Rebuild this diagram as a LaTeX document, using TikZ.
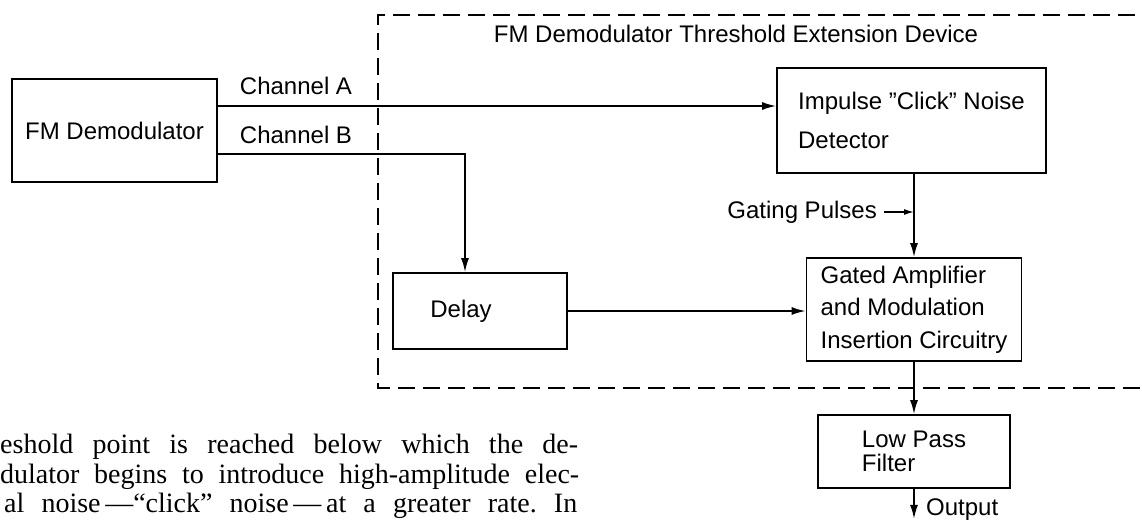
\documentclass[tikz,border=0pt]{standalone}
\usepackage{fontspec}
\setmainfont{Liberation Sans}
\newfontfamily\bodyserif[Ligatures=TeX]{Liberation Serif}
\usetikzlibrary{arrows.meta, positioning, calc}

\begin{document}
\begin{tikzpicture}[
  x=1pt, y=1pt,
  blockbox/.style={draw, line width=1.7pt, inner sep=0pt, align=left},
  sig/.style={-{Latex[length=14pt, width=8pt]}, line width=1.7pt},
  lbl/.style={font=\fontsize{24}{27}\selectfont, inner sep=0pt},
  bodyline/.style={anchor=base west, inner sep=0pt, font=\bodyserif\fontsize{28}{30}\selectfont}
]
  \useasboundingbox (0,0) rectangle (1142,-528);

  % dashed enclosure of the extension device
  \draw[line width=1.7pt, dash pattern=on 17pt off 8pt] (1160,-15) -- (378,-15) -- (378,-388) -- (1160,-388);
  \node[lbl] (title) at (736,-34) {FM Demodulator Threshold Extension Device};

  \node[blockbox, minimum width=205pt, minimum height=103pt, font=\fontsize{24}{27}\selectfont] (demod) at (114.5,-130.5) {FM Demodulator};
  \node[blockbox, minimum width=269pt, minimum height=105pt, font=\fontsize{24}{39}\selectfont] (impulse) at (911.5,-120.5) {Impulse ''Click'' Noise\\Detector};
  \node[blockbox, minimum width=174pt, minimum height=76pt, font=\fontsize{24}{27}\selectfont] (delay) at (480,-311) {\hspace*{-38pt}Delay};
  \node[blockbox, minimum width=215pt, minimum height=103pt, font=\fontsize{24}{32.5}\selectfont] (gated) at (914,-309.5) {Gated Amplifier\\and Modulation\\Insertion Circuitry};
  \node[blockbox, minimum width=192pt, minimum height=73pt, font=\fontsize{24}{24}\selectfont] (lpf) at (914,-451.5) {Low Pass\\Filter};

  \node[lbl] (chA) at (296,-86) {Channel A};
  \node[lbl] (chB) at (296,-135) {Channel B};
  \node[lbl, anchor=east] (gating) at (877,-212) {Gating Pulses};

  \draw[sig] ([yshift=24.5pt]demod.east) -- ([yshift=24.5pt]demod.east -| impulse.west);
  \draw[sig] ([yshift=-23.5pt]demod.east) -| ([xshift=-15pt]delay.north);
  \draw[sig] (delay.east) -- (delay.east -| gated.west);
  \draw[sig] (impulse.south -| gated.north) -- (gated.north);
  \draw[-{Latex[length=10pt, width=6pt]}, line width=1.4pt] ([xshift=7pt]gating.east) -- (gating.east -| gated.north);
  \draw[sig] (gated.south) -- (lpf.north);
  \draw[sig] (lpf.south) -- ++(0,-30) coordinate (outend);
  \node[lbl, anchor=west] (output) at ([xshift=12pt, yshift=9pt]outend) {Output};

  % running text of the page below the figure
  \node[bodyline] (line1) at (0,-453) {\makebox[578pt][s]{eshold point is reached below which the de-}};
  \node[bodyline] (line2) at (0,-483) {\makebox[579pt][s]{dulator begins to introduce high-amplitude elec-}};
  \node[bodyline] (line3) at (4,-512) {\frenchspacing\makebox[573pt][s]{al noise\,---``click'' noise\,---\,at a greater rate. In}};
\end{tikzpicture}
\end{document}
